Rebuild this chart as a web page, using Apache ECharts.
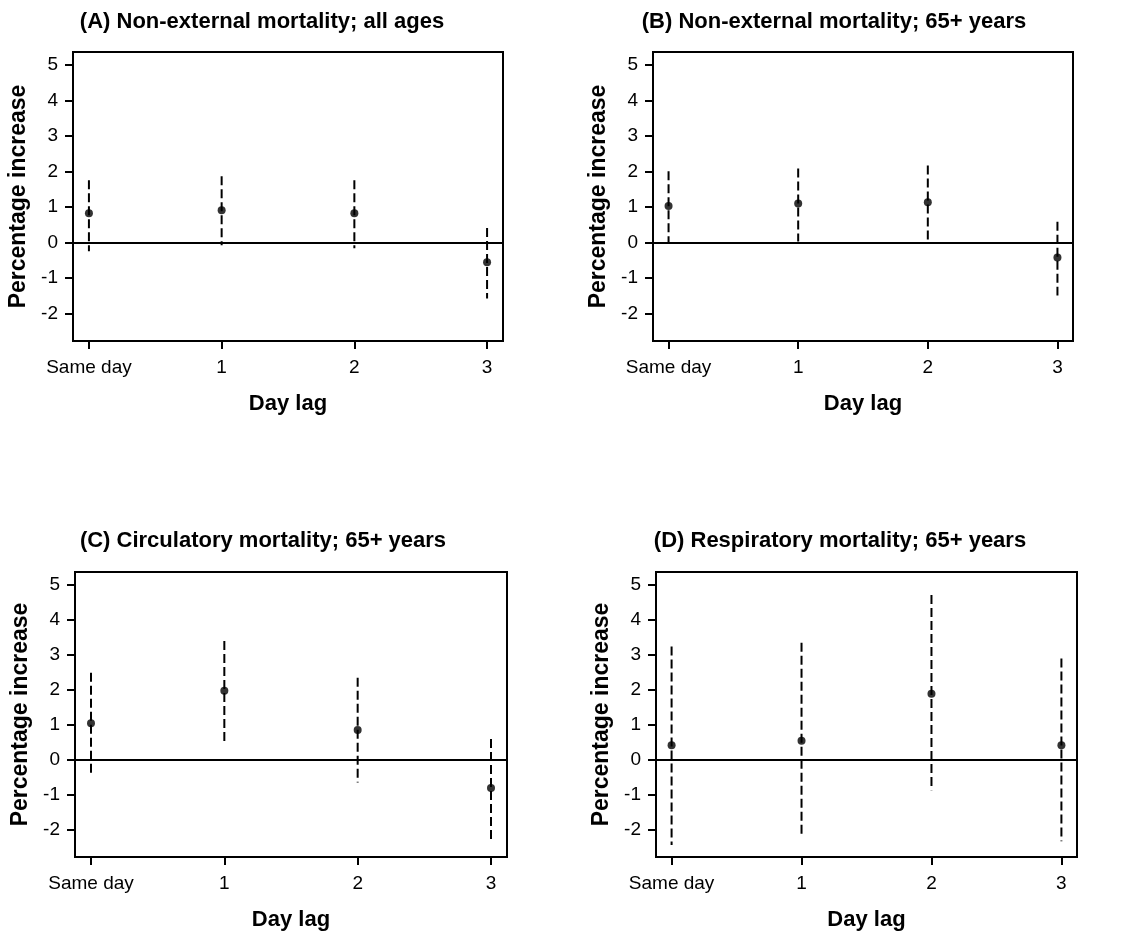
<!DOCTYPE html>
<html>
<head>
<meta charset="utf-8">
<script src="https://cdn.jsdelivr.net/npm/echarts@6/dist/echarts.min.js"></script>
<style>
html,body{margin:0;padding:0;background:#fff;}
#chart{width:1127px;height:935px;}
</style>
</head>
<body>
<div id="chart"></div>
<script>
const xLabels = ['Same day', '1', '2', '3'];
const lagPos = [0, 1, 2, 3];
const yTicks = [-2, -1, 0, 1, 2, 3, 4, 5];
const titles = [
  '(A) Non-external mortality; all ages',
  '(B) Non-external mortality; 65+ years',
  '(C) Circulatory mortality; 65+ years',
  '(D) Respiratory mortality; 65+ years'
];
const estA = [0.82, 0.90, 0.82, -0.56];
const loA  = [-0.25, -0.08, -0.17, -1.58];
const hiA  = [1.75, 1.86, 1.75, 0.40];
const estB = [1.02, 1.09, 1.13, -0.43];
const loB  = [0.00, 0.02, 0.08, -1.50];
const hiB  = [2.00, 2.08, 2.16, 0.58];
const estC = [1.04, 1.97, 0.85, -0.81];
const loC  = [-0.43, 0.47, -0.65, -2.28];
const hiC  = [2.48, 3.39, 2.34, 0.59];
const estD = [0.41, 0.54, 1.88, 0.41];
const loD  = [-2.44, -2.21, -0.87, -2.33];
const hiD  = [3.23, 3.34, 4.70, 2.89];

const panels = [
  {est: estA, lo: loA, hi: hiA},
  {est: estB, lo: loB, hi: hiB},
  {est: estC, lo: loC, hi: hiC},
  {est: estD, lo: loD, hi: hiD}
];

const FONT = '"Liberation Sans", Arial, sans-serif';
const grids = [
  {left: 73, top: 52, width: 430, height: 289},
  {left: 653, top: 52, width: 420, height: 289},
  {left: 75, top: 572, width: 432, height: 285},
  {left: 656, top: 572, width: 421, height: 285}
];
const titlePos = [
  {left: 257, top: 6},
  {left: 829, top: 6},
  {left: 258, top: 525},
  {left: 835, top: 525}
];

const option = {
  animation: false,
  backgroundColor: '#fff',
  title: titles.map((t, i) => ({
    text: t, left: titlePos[i].left, top: titlePos[i].top, textAlign: 'center',
    textStyle: {fontFamily: FONT, fontWeight: 'bold', fontSize: 22, color: '#000'}
  })),
  grid: grids.map(g => Object.assign({show: true, borderColor: '#000', borderWidth: 2, backgroundColor: 'transparent'}, g)),
  xAxis: grids.map((g, i) => ({
    type: 'value', gridIndex: i, min: -0.12, max: 3.12, position: 'bottom',
    name: 'Day lag', nameLocation: 'middle', nameGap: 52,
    nameTextStyle: {fontFamily: FONT, fontWeight: 'bold', fontSize: 22, color: '#000', verticalAlign: 'top'},
    axisLine: {show: false, onZero: false},
    axisTick: {show: true, inside: false, customValues: lagPos, length: 8, lineStyle: {color: '#000', width: 2}},
    axisLabel: {show: true, customValues: lagPos, margin: 17, fontFamily: FONT, fontSize: 19, color: '#000',
      formatter: v => xLabels[lagPos.indexOf(Math.round(v))]},
    splitLine: {show: false}
  })),
  yAxis: grids.map((g, i) => ({
    type: 'value', gridIndex: i, min: -2.78, max: 5.36, position: 'left',
    name: 'Percentage increase', nameLocation: 'middle', nameGap: 43,
    nameTextStyle: {fontFamily: FONT, fontWeight: 'bold', fontSize: 23, color: '#000'},
    axisLine: {show: false, onZero: false},
    axisTick: {show: true, inside: false, customValues: yTicks, length: 8, lineStyle: {color: '#000', width: 2}},
    axisLabel: {show: true, customValues: yTicks, margin: 15, fontFamily: FONT, fontSize: 19, color: '#000',
      formatter: v => String(Math.round(v))},
    splitLine: {show: false}
  })),
  series: []
};

panels.forEach((p, i) => {
  option.series.push({
    type: 'custom', xAxisIndex: i, yAxisIndex: i,
    data: lagPos.map((x, k) => [x, p.lo[k], p.hi[k]]),
    encode: {x: 0, y: [1, 2]},
    renderItem: (params, api) => {
      const a = api.coord([api.value(0), api.value(2)]);
      const b = api.coord([api.value(0), api.value(1)]);
      return {type: 'line', shape: {x1: a[0], y1: a[1], x2: b[0], y2: b[1]},
        style: {stroke: '#000', lineWidth: 2, lineDash: [9, 4]}};
    },
    z: 3
  });
  option.series.push({
    type: 'scatter', xAxisIndex: i, yAxisIndex: i,
    data: lagPos.map((x, k) => [x, p.est[k]]),
    symbol: 'circle', symbolSize: 8,
    itemStyle: {color: '#000'},
    z: 4,
    markLine: {
      silent: true, symbol: 'none', label: {show: false},
      lineStyle: {color: '#000', type: 'solid', width: 2},
      data: [{yAxis: 0}]
    }
  });
});

const chart = echarts.init(document.getElementById('chart'), null, {renderer: 'canvas'});
chart.setOption(option);
</script>
</body>
</html>
